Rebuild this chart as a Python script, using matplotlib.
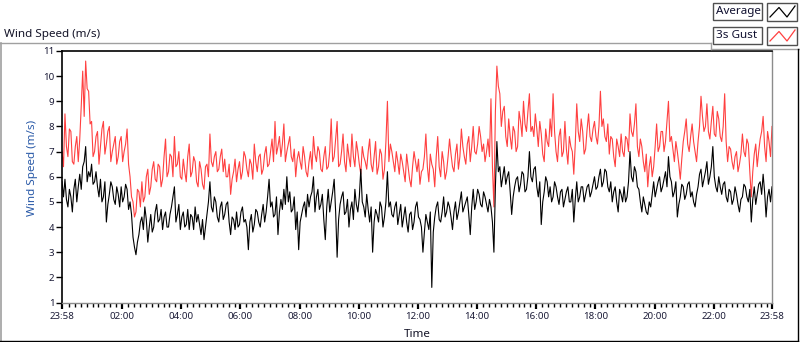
import matplotlib
matplotlib.use('Agg')
import matplotlib.pyplot as plt
from matplotlib.patches import Rectangle

plt.rcParams['font.family'] = ['Noto Sans', 'DejaVu Sans']

# ---- data ----
# readings every 6 minutes from 23:58, plus readings at the 3-minute offsets between them
step_min = 6
gust = [
    7.0, 8.5, 6.8, 7.8, 6.5, 7.6, 7.5, 10.2, 10.6, 9.4,
    8.2, 7.0, 7.8, 7.2, 8.2, 7.3, 8.0, 7.0, 7.6, 6.8,
    7.6, 7.0, 7.9, 6.0, 5.0, 4.6, 5.4, 5.8, 5.2, 6.3,
    5.6, 6.6, 5.8, 6.4, 5.9, 7.5, 6.2, 6.8, 7.6, 6.5,
    6.0, 6.7, 5.8, 7.3, 6.2, 6.6, 5.6, 6.3, 5.5, 6.5,
    7.7, 6.4, 7.0, 6.3, 7.1, 6.7, 6.0, 5.3, 6.2, 5.8,
    6.6, 6.2, 6.8, 6.0, 6.5, 7.3, 6.2, 6.9, 6.3, 7.2,
    6.5, 7.5, 8.2, 7.2, 6.8, 8.1, 7.0, 7.6, 6.6, 6.0,
    7.0, 6.3, 6.8, 6.0, 7.0,
    7.6, 6.6, 7.0, 6.2, 7.2, 6.4, 8.3, 6.8, 8.2, 6.5,
    7.7, 6.2, 6.8, 7.7, 6.4, 7.0, 6.1, 6.8, 6.3, 7.5,
    6.2, 7.4, 6.4, 6.9, 6.3, 9.0, 7.3, 6.6, 7.0, 6.1,
    6.6, 5.8, 6.4, 5.6, 7.0, 6.2, 5.7, 6.3, 7.7, 5.8,
    6.5, 5.6, 7.6, 6.0, 6.6, 6.2, 7.5, 6.4, 6.9, 6.3,
    7.9, 6.8, 7.3, 6.6, 8.0, 6.9, 8.0, 7.0, 6.6, 7.5,
    9.1, 4.8, 10.4, 9.3, 8.6, 7.6, 8.3, 7.1, 7.8, 7.2,
    8.2, 9.0, 7.8, 9.3, 8.0, 8.5, 7.2, 7.7, 6.6, 7.4, 8.3,
    9.3, 7.0, 7.6, 6.8, 8.2, 6.5, 7.2, 6.1, 8.9, 7.4,
    7.8, 7.1, 8.5, 7.4, 8.2, 7.3, 9.4, 8.3, 7.4, 6.9,
    7.5, 6.4, 7.2, 7.7, 6.8, 7.5, 8.5, 7.6, 8.9, 6.8,
    7.2, 6.2, 5.6, 6.8, 6.4, 8.1, 7.2, 7.8, 7.4, 9.0,
    7.6, 6.6, 7.0, 5.9, 7.4, 8.3, 7.0, 8.1, 7.0, 7.4,
    9.2, 7.8, 8.9, 7.5, 8.8, 7.6, 8.3, 7.4, 9.3, 6.6,
    7.1, 6.3, 7.0, 6.5, 7.7, 6.8, 7.3, 5.2, 6.9, 6.4,
    7.5, 8.4, 6.6, 7.4, 8.0,
]
gust_mid = [
    6.4, 7.2, 7.9, 6.6, 7.2, 6.6, 8.8, 8.4, 9.5, 8.1,
    6.8, 7.6, 6.5, 7.9, 6.9, 7.8, 6.6, 7.3, 6.5, 7.4,
    6.6, 7.3, 6.5, 5.2, 4.4, 5.5, 4.8, 5.0, 6.0, 5.3,
    6.3, 5.9, 6.5, 5.6, 6.8, 6.0, 6.9, 6.0, 6.4, 7.0,
    5.9, 6.2, 6.8, 6.0, 6.8, 5.8, 6.6, 5.7, 6.4, 6.0,
    6.6, 6.8, 6.2, 6.8, 6.2, 6.0, 6.5, 5.9, 6.7, 6.3,
    5.9, 7.0, 6.3, 6.7, 5.9, 6.6, 6.8, 6.1, 6.9, 6.4,
    7.0, 6.6, 6.9, 7.6, 7.3, 6.6, 7.3, 6.8, 7.1, 6.7,
    6.6, 7.2, 6.2, 6.6, 6.3, 6.9, 7.2, 6.3, 6.8, 6.3,
    7.0, 6.6, 7.5, 6.4, 7.0, 6.6, 7.3, 6.4, 6.8, 7.4,
    6.5, 7.2, 6.6, 7.0, 6.5, 6.8, 6.1, 7.1, 5.9, 7.4,
    6.6, 7.0, 6.2, 6.6, 6.9, 6.2, 6.9, 5.9, 6.4, 6.6,
    6.7, 6.2, 6.8, 6.4, 6.9, 6.3, 6.8, 6.4, 7.0, 5.9,
    6.8, 6.9, 6.2, 7.3, 6.8, 7.2, 6.5, 7.6, 7.2, 7.0,
    7.3, 7.6, 7.3, 7.0, 6.8, 6.4, 8.6, 9.6, 8.0, 8.8,
    7.2, 7.6, 8.0, 7.0, 8.6, 7.6, 8.1, 8.6, 7.8, 7.6,
    7.9, 8.2, 6.9, 7.9, 7.2, 7.6, 7.8, 6.6, 7.9, 7.0,
    7.1, 7.6, 7.0, 7.3, 7.8, 8.3, 6.9, 7.9, 7.6, 7.9,
    7.6, 8.0, 8.0, 7.6, 8.1, 7.6, 6.8, 7.5, 6.8, 7.0,
    7.6, 7.0, 7.8, 8.1, 7.2, 7.5, 6.6, 6.9, 6.4, 6.0,
    7.2, 7.0, 7.8, 7.0, 8.2, 7.4, 7.1, 7.4, 6.5, 6.7,
    7.8, 7.3, 7.6, 7.4, 6.6, 8.0, 8.4, 8.0, 7.8, 8.2,
    7.7, 8.6, 7.6, 8.0, 7.4, 7.2, 6.6, 6.8, 6.2, 6.9,
    7.0, 7.5, 6.2, 6.2, 7.3, 7.0, 7.8, 7.2, 7.8, 6.8,
]
average = [
    5.8, 5.9, 4.8, 5.2, 5.5, 5.0, 6.1, 6.4, 7.2, 6.2,
    6.5, 5.8, 5.6, 5.9, 5.2, 4.2, 5.3, 5.6, 4.9, 5.3,
    5.6, 5.2, 5.5, 5.0, 3.6, 2.9, 3.7, 4.4, 4.8, 3.4,
    4.5, 4.0, 4.9, 4.3, 3.9, 4.6, 4.0, 4.8, 5.6, 4.5,
    3.9, 4.6, 4.1, 3.9, 4.4, 4.8, 4.5, 3.7, 3.5, 4.5,
    5.8, 4.6, 5.0, 4.2, 5.0, 4.5, 5.0, 3.7, 4.3, 4.6,
    4.1, 4.8, 4.3, 3.1, 4.5, 4.1, 4.6, 4.0, 4.9, 4.6,
    5.9, 5.0, 4.5, 3.7, 5.1, 5.5, 6.0, 5.4, 4.7, 3.9,
    3.1, 4.5, 5.0, 5.3, 5.2,
    6.0, 5.2, 4.7, 5.3, 3.5, 5.5, 5.0, 5.9, 2.8, 4.9,
    5.4, 4.6, 4.0, 5.0, 5.5, 4.6, 6.3, 4.8, 5.3, 4.2,
    3.0, 4.7, 4.2, 4.8, 4.4, 6.2, 5.0, 4.4, 5.0, 4.5,
    4.0, 4.8, 3.8, 4.6, 4.2, 5.0, 4.3, 3.0, 4.5, 3.9,
    1.6, 4.4, 5.0, 4.2, 5.2, 4.6, 4.8, 3.9, 5.0, 4.6,
    5.4, 4.8, 5.2, 3.7, 5.5, 5.0, 5.3, 4.8, 5.2, 4.6,
    4.8, 3.0, 7.4, 6.4, 6.0, 5.7, 6.2, 4.5, 5.6, 6.0,
    5.7, 6.1, 5.5, 7.0, 5.8, 6.4, 5.2, 4.1, 5.4, 5.8, 5.6,
    5.2, 5.6, 4.9, 5.5, 5.1, 5.6, 5.0, 4.2, 5.8, 5.2,
    5.6, 5.3, 5.7, 5.4, 6.0, 5.6, 6.3, 5.8, 6.2, 5.4,
    5.0, 5.6, 4.6, 5.3, 5.6, 5.2, 7.0, 5.8, 6.2, 5.5,
    4.6, 4.9, 4.5, 4.8, 5.8, 5.5, 6.0, 5.6, 6.2, 6.8,
    5.8, 5.4, 4.4, 5.2, 5.6, 5.3, 5.8, 5.4, 4.8, 5.6,
    6.3, 5.9, 6.6, 6.0, 7.2, 5.6, 6.0, 5.3, 5.8, 5.0,
    5.4, 5.1, 5.3, 4.6, 5.2, 5.6, 5.0, 4.2, 5.6, 5.3,
    5.8, 6.1, 4.4, 5.5, 5.6,
]
average_mid = [
    5.2, 5.1, 5.5, 4.6, 5.9, 5.6, 5.5, 6.6, 5.8, 6.0,
    5.7, 6.2, 5.2, 5.0, 5.8, 4.9, 5.8, 5.1, 5.6, 4.8,
    5.0, 5.7, 4.7, 4.5, 3.2, 3.4, 4.2, 3.9, 4.3, 4.0,
    3.8, 4.6, 4.2, 4.7, 4.4, 4.0, 4.5, 5.2, 4.2, 4.9,
    4.4, 4.0, 4.7, 4.5, 3.9, 4.2, 4.1, 4.3, 4.0, 5.0,
    4.8, 5.2, 4.4, 4.8, 4.3, 4.9, 4.2, 4.4, 3.9, 4.0,
    4.6, 4.2, 4.0, 4.2, 3.8, 4.7, 4.2, 4.5, 4.2, 5.2,
    4.8, 4.4, 5.2, 4.6, 4.7, 4.9, 5.0, 4.6, 5.2, 4.6,
    4.2, 4.8, 4.4, 4.8, 5.4, 4.6, 5.5, 4.9, 4.3, 4.8,
    4.6, 5.4, 4.6, 4.3, 5.2, 4.5, 5.1, 4.7, 4.3, 4.9,
    5.2, 5.0, 4.4, 4.7, 4.8, 4.2, 4.5, 5.0, 4.0, 5.0,
    4.8, 4.5, 4.8, 4.1, 4.9, 4.4, 4.2, 4.5, 3.9, 4.8,
    4.4, 4.0, 3.8, 4.2, 4.6, 3.8, 4.8, 4.3, 4.6, 4.4,
    5.0, 4.4, 4.6, 4.3, 5.0, 4.6, 5.0, 4.5, 4.8, 4.7,
    5.5, 4.9, 5.4, 4.9, 5.1, 4.2, 5.6, 6.2, 5.6, 6.4,
    6.0, 5.4, 5.2, 5.9, 5.4, 6.2, 5.4, 6.0, 6.0, 6.3,
    5.6, 5.8, 5.0, 6.0, 5.2, 5.0, 5.8, 5.2, 5.4, 4.8,
    5.4, 5.0, 5.5, 5.1, 5.0, 5.6, 5.0, 5.6, 5.2, 5.7,
    5.5, 6.0, 5.6, 6.3, 5.6, 5.8, 5.4, 5.0, 5.5, 5.0,
    5.0, 5.8, 6.0, 6.4, 5.6, 5.0, 5.2, 4.6, 5.0, 5.3,
    5.2, 5.8, 5.4, 5.9, 5.6, 6.0, 5.2, 5.8, 4.9, 5.7,
    5.1, 5.7, 5.2, 5.0, 5.3, 6.1, 5.6, 6.2, 5.7, 6.4,
    6.0, 5.4, 5.6, 5.7, 5.2, 5.5, 4.9, 5.6, 4.9, 5.1,
    5.7, 5.2, 5.5, 5.1, 4.9, 5.7, 5.3, 5.4, 5.2, 5.0,
]

x_tick_pos = [0, 122, 242, 362, 482, 602, 722, 842, 962, 1082, 1202, 1322, 1440]
x_tick_labels = ['23:58', '02:00', '04:00', '06:00', '08:00', '10:00', '12:00',
                 '14:00', '16:00', '18:00', '20:00', '22:00', '23:58']
y_ticks = list(range(1, 12))
series_names = ['Average', '3s Gust']


def merge(main, mid):
    t, v = [], []
    for i in range(len(mid)):
        t += [i * step_min, i * step_min + step_min / 2]
        v += [main[i], mid[i]]
    t.append((len(main) - 1) * step_min)
    v.append(main[-1])
    return t, v


t_gust, v_gust = merge(gust, gust_mid)
t_avg, v_avg = merge(average, average_mid)

# ---- figure ----
W, H = 800, 342
fig = plt.figure(figsize=(W / 100, H / 100), dpi=100)
fig.patch.set_facecolor('white')

ax_l, ax_r, ax_t, ax_b = 62, 772, 51, 302.5
ax = fig.add_axes([ax_l / W, 1 - ax_b / H, (ax_r - ax_l) / W, (ax_b - ax_t) / H])
ax.plot(t_gust, v_gust, color='#ff4040', lw=0.8, zorder=2)
ax.plot(t_avg, v_avg, color='black', lw=0.8, zorder=3)
ax.set_xlim(0, 1440)
ax.set_ylim(1, 11)

for s in ('left', 'top'):
    ax.spines[s].set_color('black')
    ax.spines[s].set_linewidth(1.2)
for s in ('right', 'bottom'):
    ax.spines[s].set_color('#8c8c8c')
    ax.spines[s].set_linewidth(1.0)

tick_color = '#1c1c38'
ax.set_yticks(y_ticks)
ax.set_yticklabels([str(v) for v in y_ticks])
ax.tick_params(axis='y', direction='out', length=4, width=1, color='black',
               labelsize=7, pad=1.5, labelcolor=tick_color)
ax.set_xticks(x_tick_pos)
ax.set_xticklabels(x_tick_labels)
minor = [2 + 12 * k for k in range(1, 120) if (2 + 12 * k) not in x_tick_pos and 2 + 12 * k < 1436]
ax.set_xticks(minor, minor=True)
ax.tick_params(axis='x', which='major', direction='out', length=4.5, width=1.6,
               color='black', labelsize=7, pad=2.5, labelcolor=tick_color)
ax.tick_params(axis='x', which='minor', direction='out', length=3, width=1, color='black')

ax.set_xlabel('Time', fontsize=8.4, color='#141428')
ax.xaxis.set_label_coords(0.5, (ax_b - 329) / (ax_b - ax_t))
ax.set_ylabel('Wind Speed (m/s)', fontsize=8.4, color='#2a5aa8')
ax.yaxis.set_label_coords((38 - ax_l) / (ax_r - ax_l), (ax_b - 168) / (ax_b - ax_t))
ax.set_title('Wind Speed (m/s)', loc='left', fontsize=8.4, color='#141428',
             x=(4 - ax_l) / (ax_r - ax_l), y=(ax_b - 36.5) / (ax_b - ax_t), pad=0)

# ---- frame and legend (pixel overlay) ----
ov = fig.add_axes([0, 0, 1, 1], zorder=5)
ov.set_xlim(0, W)
ov.set_ylim(H, 0)
ov.axis('off')
ov.patch.set_alpha(0)

g = '#a0a0a0'
ov.plot([0, 711], [42.5, 42.5], color=g, lw=1)
ov.plot([711, 711], [42.5, 48.5], color=g, lw=1)
ov.plot([711, 800], [48.5, 48.5], color=g, lw=1)
ov.plot([0.5, 0.5], [42.5, 342], color=g, lw=1.2)
ov.plot([0, 798], [340.5, 340.5], color='black', lw=1)
ov.plot([797.5, 797.5], [49, 341], color='black', lw=1)

legend_colors = ['black', '#ff4040']
for k, (name, col) in enumerate(zip(series_names, legend_colors)):
    y0 = 3 + 24 * k
    ov.add_patch(Rectangle((713, y0), 49, 17, facecolor='white', edgecolor='#505050', lw=1))
    ov.add_patch(Rectangle((767, y0), 30, 18, facecolor='white', edgecolor='#505050', lw=1))
    ov.text(715.5, y0 + 8.8, name, fontsize=8.4, color='#101030', ha='left', va='center')
    ov.plot([770, 779, 787, 795], [y0 + 14, y0 + 4.5, y0 + 14, y0 + 3], color=col, lw=0.9)

fig.savefig('out.png', dpi=100, facecolor='white')
